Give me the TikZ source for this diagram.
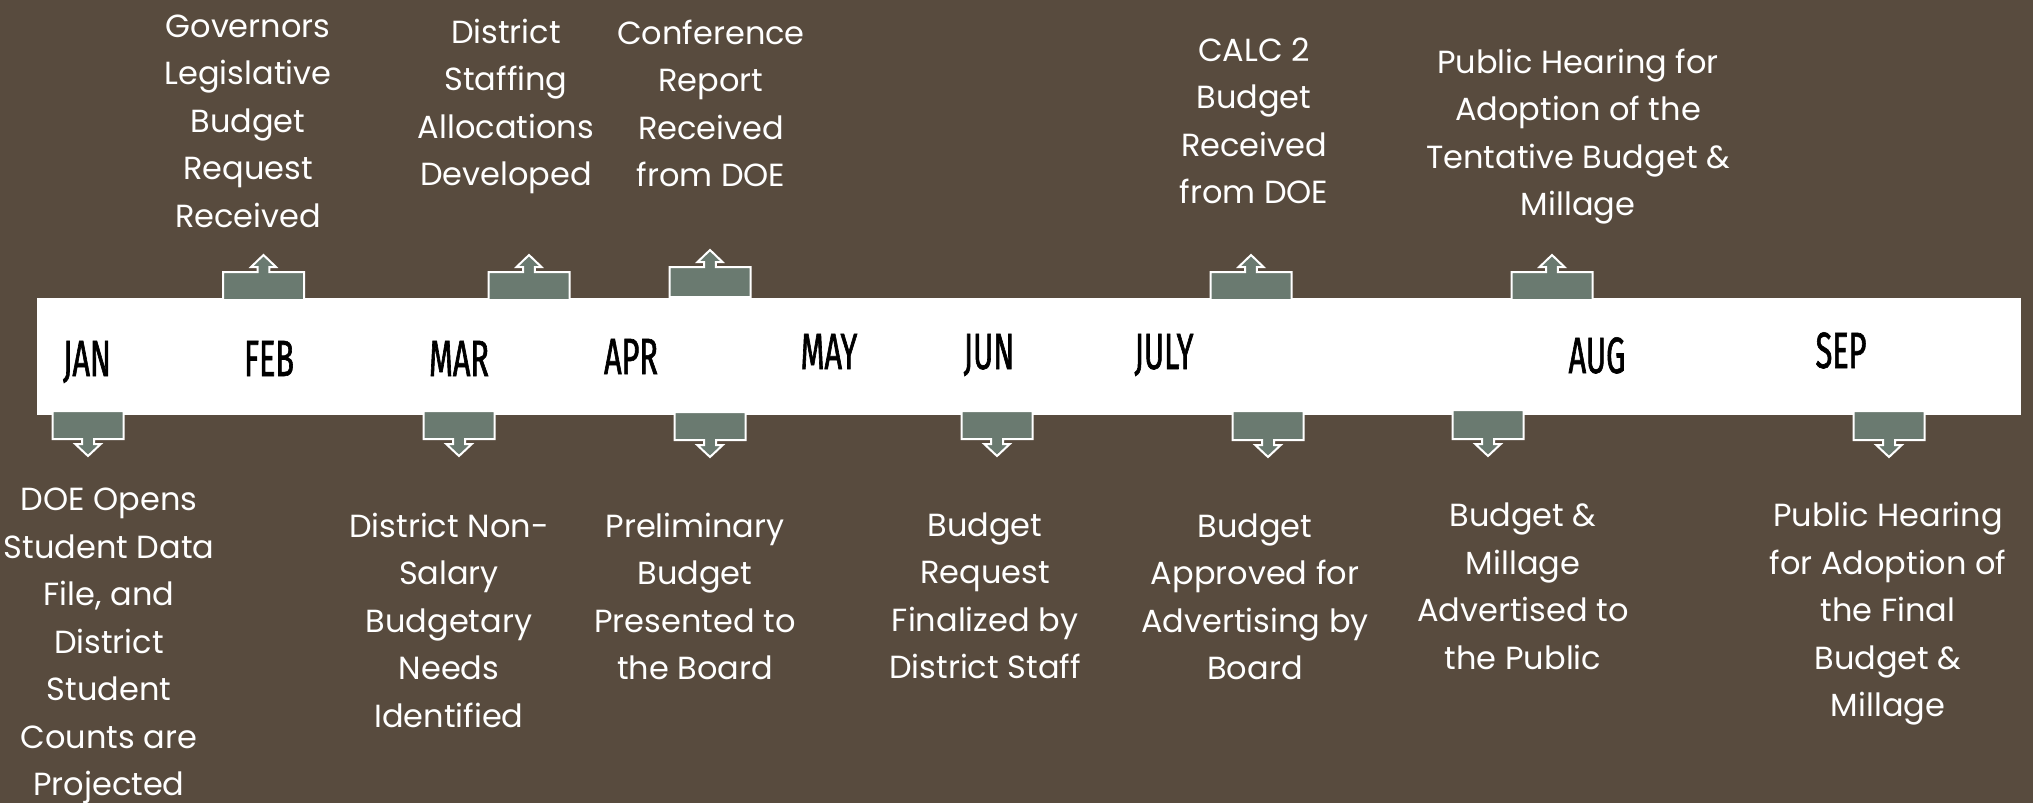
\documentclass[tikz,border=0pt]{standalone}
\usepackage{fontspec}
\setmainfont{Poppins}
\newfontfamily\monthfont{Fira Sans}[FakeStretch=0.6,FakeBold=1.2]
\definecolor{bgc}{HTML}{584B3E}
\definecolor{boxc}{HTML}{6A7A70}
\newcommand\upcall[3]{\draw[callout,xshift=#1] (-40.5,#3) -- (-40.5,#2) -- (-5.8,#2) -- (-5.8,#2-5) -- (-12.5,#2-5) -- (0,#2-17) -- (12.5,#2-5) -- (5.8,#2-5) -- (5.8,#2) -- (40.5,#2) -- (40.5,#3) -- cycle;}
\newcommand\downcall[3]{\draw[callout,xshift=#1] (-35.5,#2) -- (35.5,#2) -- (35.5,#3) -- (6,#3) -- (6,#3+5) -- (12.8,#3+5) -- (0,#3+17) -- (-12.8,#3+5) -- (-6,#3+5) -- (-6,#3) -- (-35.5,#3) -- cycle;}
\begin{document}
\begin{tikzpicture}[x=1pt,y=-1pt,
  callout/.style={fill=boxc,draw=white,line width=2pt,line join=miter},
  month/.style={font=\monthfont\fontsize{51}{51}\selectfont,text=black,inner sep=0pt,anchor=base},
  evtext/.style={font=\fontsize{32}{47.5}\selectfont,text=white,align=center,inner sep=0pt,anchor=north}]
\useasboundingbox (0,0) rectangle (2033,803);
\fill[bgc] (0,0) rectangle (2033,803);
% timeline band
\fill[white] (37,298) rectangle (2021,415);
% callouts above
\upcall{263.5}{272}{300}
\upcall{529}{272}{300}
\upcall{710}{267}{297}
\upcall{1251}{272}{300}
\upcall{1552}{272}{300}
% callouts below
\downcall{88}{411}{439}
\downcall{459}{411}{439}
\downcall{710}{412}{440}
\downcall{997}{411}{439}
\downcall{1268}{411}{440}
\downcall{1488}{410}{439}
\downcall{1889}{411}{440}
% months
\node[month] (jan) at (87,376) {JAN};
\node[month] (feb) at (269,376) {FEB};
\node[month] (mar) at (459,376) {MAR};
\node[month] (apr) at (631,374) {APR};
\node[month] (may) at (829,369) {MAY};
\node[month] (jun) at (989,369) {JUN};
\node[month] (jul) at (1164,369) {JULY};
\node[month] (aug) at (1597,373) {AUG};
\node[month] (sep) at (1841,368) {SEP};
% events above
\node[evtext] (t1) at (248,3.75) {\strut Governors\\Legislative\\Budget\\Request\\Received};
\node[evtext] (t2) at (506,9.75) {\strut District\\Staffing\\Allocations\\Developed};
\node[evtext] (t3) at (711,10.75) {\strut Conference\\Report\\Received\\from DOE};
\node[evtext] (t4) at (1254,27.75) {\strut CALC 2\\Budget\\Received\\from DOE};
\node[evtext] (t5) at (1578,39.75) {\strut Public Hearing for\\Adoption of the\\Tentative Budget \&\\Millage};
% events below
\node[evtext] (b1) at (109,477.5) {\strut DOE Opens\\Student Data\\File, and\\District\\Student\\Counts are\\Projected};
\node[evtext] (b2) at (449,503.75) {\strut District Non-\\Salary\\Budgetary\\Needs\\Identified};
\node[evtext] (b3) at (695,503.75) {\strut Preliminary\\Budget\\Presented to\\the Board};
\node[evtext] (b4) at (985,502.75) {\strut Budget\\Request\\Finalized by\\District Staff};
\node[evtext] (b5) at (1255,503.75) {\strut Budget\\Approved for\\Advertising by\\Board};
\node[evtext] (b6) at (1523,493.25) {\strut Budget \&\\Millage\\Advertised to\\the Public};
\node[evtext] (b7) at (1888,493.25) {\strut Public Hearing\\for Adoption of\\the Final\\Budget \&\\Millage};
\end{tikzpicture}
\end{document}
